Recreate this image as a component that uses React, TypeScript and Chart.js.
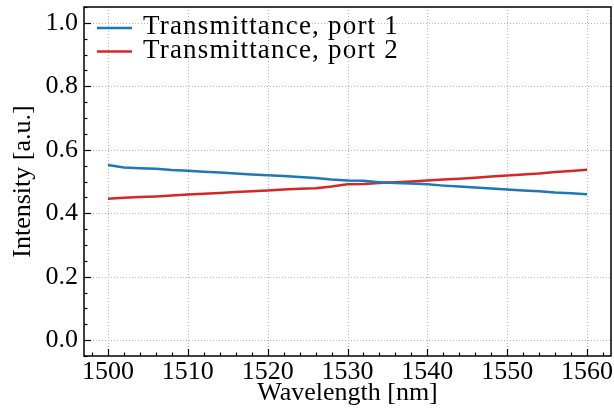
import React, { useEffect, useRef } from 'react';
import { Chart, registerables } from 'chart.js';

Chart.register(...registerables);

const WAVELENGTH = [
  1500, 1502, 1504, 1506, 1508, 1510, 1512, 1514, 1516, 1518, 1520,
  1522, 1524, 1526, 1528, 1530, 1532, 1534, 1536, 1538, 1540,
  1542, 1544, 1546, 1548, 1550, 1552, 1554, 1556, 1558, 1560,
];
const PORT1 = [
  0.552, 0.544, 0.542, 0.540, 0.536, 0.534, 0.531, 0.528, 0.525, 0.522, 0.520,
  0.517, 0.514, 0.511, 0.506, 0.503, 0.502, 0.498, 0.495, 0.494, 0.491,
  0.487, 0.484, 0.481, 0.478, 0.475, 0.472, 0.469, 0.465, 0.463, 0.460,
];
const PORT2 = [
  0.446, 0.449, 0.451, 0.453, 0.456, 0.459, 0.461, 0.464, 0.467, 0.469, 0.472,
  0.475, 0.477, 0.479, 0.484, 0.491, 0.492, 0.495, 0.498, 0.500, 0.503,
  0.506, 0.509, 0.512, 0.516, 0.519, 0.522, 0.525, 0.530, 0.533, 0.537,
];
const SERIES_LABELS = ['Transmittance, port 1', 'Transmittance, port 2'];
const SERIES_COLORS = ['#1f77b4', '#d62728'];
const X_TICKS = [1500, 1510, 1520, 1530, 1540, 1550, 1560];
const Y_TICKS = [0, 0.2, 0.4, 0.6, 0.8, 1.0];
const X_LABEL = 'Wavelength [nm]';
const Y_LABEL = 'Intensity [a.u.]';

const FONT_FAMILY = '"Liberation Serif", "Times New Roman", serif';
const FONT_SIZE = 26;

const framePlugin = {
  id: 'sciFrame',
  beforeDatasetsDraw(chart: any) {
    const { ctx, chartArea: a, scales } = chart;
    const x = scales.x;
    const y = scales.y;
    ctx.save();
    ctx.strokeStyle = 'rgba(175,175,175,0.95)';
    ctx.lineWidth = 1;
    ctx.setLineDash([1, 2]);
    X_TICKS.forEach((v) => {
      const px = Math.round(x.getPixelForValue(v)) + 0.5;
      ctx.beginPath();
      ctx.moveTo(px, a.top);
      ctx.lineTo(px, a.bottom);
      ctx.stroke();
    });
    Y_TICKS.forEach((v) => {
      const py = Math.round(y.getPixelForValue(v)) + 0.5;
      ctx.beginPath();
      ctx.moveTo(a.left, py);
      ctx.lineTo(a.right, py);
      ctx.stroke();
    });
    ctx.restore();
  },
  afterDatasetsDraw(chart: any) {
    const { ctx, chartArea: a, scales } = chart;
    const x = scales.x;
    const y = scales.y;
    ctx.save();
    ctx.setLineDash([]);
    ctx.strokeStyle = '#000';
    ctx.lineWidth = 1.2;
    const xStep = (X_TICKS[1] - X_TICKS[0]) / 5;
    for (let k = Math.ceil(x.min / xStep - 1e-9); k * xStep <= x.max + 1e-9; k++) {
      const v = k * xStep;
      const isMajor = X_TICKS.some((t) => Math.abs(t - v) < 1e-6);
      const px = Math.round(x.getPixelForValue(v)) + 0.5;
      ctx.beginPath();
      ctx.moveTo(px, a.bottom);
      ctx.lineTo(px, a.bottom - (isMajor ? 7 : 3.5));
      ctx.stroke();
    }
    const yStep = (Y_TICKS[1] - Y_TICKS[0]) / 4;
    for (let k = Math.ceil(y.min / yStep - 1e-9); k * yStep <= y.max + 1e-9; k++) {
      const v = k * yStep;
      const isMajor = Y_TICKS.some((t) => Math.abs(t - v) < 1e-6);
      const py = Math.round(y.getPixelForValue(v)) + 0.5;
      ctx.beginPath();
      ctx.moveTo(a.left, py);
      ctx.lineTo(a.left + (isMajor ? 7 : 3.5), py);
      ctx.stroke();
    }
    ctx.lineWidth = 1.5;
    ctx.strokeRect(a.left, a.top, a.right - a.left, a.bottom - a.top);

    // legend
    ctx.font = `27px ${FONT_FAMILY}`;
    try { (ctx as any).letterSpacing = '1.2px'; } catch (e) { /* ignore */ }
    ctx.textBaseline = 'alphabetic';
    ctx.textAlign = 'left';
    const rowY = [a.top + 21, a.top + 44.5];
    SERIES_LABELS.forEach((label, i) => {
      const ly = rowY[i];
      ctx.strokeStyle = SERIES_COLORS[i];
      ctx.lineWidth = 2.5;
      ctx.beginPath();
      ctx.moveTo(a.left + 13, ly);
      ctx.lineTo(a.left + 48, ly);
      ctx.stroke();
      ctx.fillStyle = '#000';
      ctx.fillText(label, a.left + 59, ly + 6);
    });
    try { (ctx as any).letterSpacing = '0px'; } catch (e) { /* ignore */ }
    ctx.restore();
  },
};

export default function App() {
  const canvasRef = useRef<HTMLCanvasElement | null>(null);

  useEffect(() => {
    if (!canvasRef.current) return;
    const font = { family: FONT_FAMILY, size: FONT_SIZE, lineHeight: 1 };
    const chart = new Chart(canvasRef.current, {
      type: 'line',
      data: {
        datasets: [PORT1, PORT2].map((series, i) => ({
          label: SERIES_LABELS[i],
          data: WAVELENGTH.map((w, j) => ({ x: w, y: series[j] })),
          borderColor: SERIES_COLORS[i],
          backgroundColor: SERIES_COLORS[i],
          borderWidth: 2.5,
          pointRadius: 0,
          tension: 0,
          fill: false,
        })),
      },
      options: {
        responsive: false,
        devicePixelRatio: 1,
        animation: false,
        events: [],
        layout: { padding: { top: 7, right: 3, left: 0, bottom: 0 } },
        plugins: {
          legend: { display: false },
          tooltip: { enabled: false },
        },
        scales: {
          x: {
            type: 'linear',
            min: 1497,
            max: 1563,
            afterBuildTicks: (s: any) => {
              s.ticks = X_TICKS.map((v) => ({ value: v }));
            },
            afterFit: (s: any) => {
              s.height = 54;
              s.paddingLeft = 0;
              s.paddingRight = 0;
              s.paddingTop = 0;
              s.paddingBottom = 0;
            },
            grid: { display: false, drawTicks: false },
            border: { display: false },
            ticks: {
              color: '#000',
              font,
              padding: 3,
              maxRotation: 0,
              autoSkip: false,
              callback: (v: any) => String(v),
            },
            title: {
              display: true,
              text: X_LABEL,
              color: '#000',
              font,
              padding: { top: 0, bottom: 4 },
            },
          },
          y: {
            type: 'linear',
            min: -0.05,
            max: 1.05,
            afterBuildTicks: (s: any) => {
              s.ticks = Y_TICKS.map((v) => ({ value: v }));
            },
            afterFit: (s: any) => {
              s.width = 84;
              s.paddingLeft = 0;
              s.paddingRight = 0;
              s.paddingTop = 0;
              s.paddingBottom = 0;
            },
            grid: { display: false, drawTicks: false },
            border: { display: false },
            ticks: {
              color: '#000',
              font,
              padding: 6,
              autoSkip: false,
              callback: (v: any) => Number(v).toFixed(1),
            },
            title: {
              display: true,
              text: Y_LABEL,
              color: '#000',
              font,
              padding: { top: 10, bottom: 0 },
            },
          },
        },
      },
      plugins: [framePlugin],
    } as any);
    return () => chart.destroy();
  }, []);

  return (
    <div style={{ position: 'absolute', left: 0, top: 0, width: 614, height: 410 }}>
      <canvas ref={canvasRef} width={614} height={410} style={{ display: 'block' }} />
    </div>
  );
}
